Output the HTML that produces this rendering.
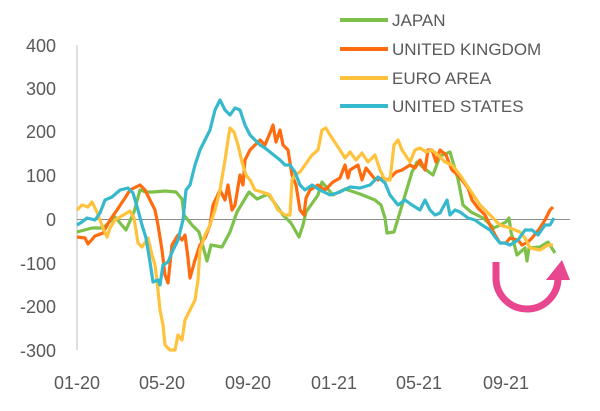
<!DOCTYPE html>
<html><head><meta charset="utf-8"><style>
html,body{margin:0;padding:0;background:#fff;}
svg{display:block;font-family:"Liberation Sans",sans-serif;}
</style></head><body>
<svg width="600" height="411" viewBox="0 0 600 411">
<g fill="#595959" font-size="18" text-anchor="end">
<text x="56" y="52">400</text><text x="56" y="95">300</text><text x="56" y="138">200</text>
<text x="56" y="182">100</text><text x="56" y="226">0</text><text x="56" y="270">-100</text>
<text x="56" y="313">-200</text><text x="56" y="357">-300</text>
</g>
<g fill="#595959" font-size="18" text-anchor="middle">
<text x="77" y="389">01-20</text><text x="162" y="389">05-20</text><text x="248" y="389">09-20</text>
<text x="334" y="389">01-21</text><text x="419" y="389">05-21</text><text x="506" y="389">09-21</text>
</g>
<line x1="77" y1="45" x2="77" y2="350" stroke="#bfbfbf" stroke-width="1"/>
<line x1="77" y1="219.5" x2="570" y2="219.5" stroke="#8c8c8c" stroke-width="1"/>
<g fill="none" stroke-width="3.2" stroke-linejoin="round">
<polyline stroke="#7dc14a" points="77,232 92,228 103,228 115,217 126,230 134,212 140,190 146,192 153,192 165,191 176,192 182,199 184,215 192,225 199,232 207,261 211,245 222,247 230,232 237,212 249,192 257,199 268,194 276,205 283,215 291,223 299,237 303,225 306,212 318,195 322,182 333,195 345,189 360,194 375,200 381,205 385,218 387,233 394,232 400,212 406,192 412,172 417,162 425,169 433,175 440,156 450,152 458,179 463,205 471,212 483,218 494,228 506,222 509,218 511,232 517,255 525,248 527,261 529,248 540,247 548,242 555,253"/>
<polyline stroke="#ff6b0f" points="77,237 85,238 88,244 95,236 103,233 110,220 117,210 125,198 130,190 140,185 145,190 150,200 155,210 158,225 162,250 165,275 168,283 172,245 175,240 178,235 182,240 185,235 188,258 190,278 195,260 200,245 205,238 210,225 213,205 220,190 225,200 228,185 232,210 235,205 240,175 243,185 245,160 250,150 255,145 260,140 265,145 270,133 273,125 276,142 280,130 283,145 288,150 292,175 296,185 300,210 304,215 306,198 310,190 318,185 325,190 333,182 340,178 345,165 348,178 350,170 358,165 362,180 366,168 374,178 378,180 382,178 388,180 396,172 402,170 410,165 415,168 420,160 425,170 428,150 432,150 436,162 440,150 446,155 452,170 458,175 462,180 468,188 472,200 478,208 485,215 490,225 495,235 500,243 506,243 510,238 518,240 522,245 528,242 532,238 540,228 545,220 550,210 553,207"/>
<polyline stroke="#ffc23d" points="77,210 82,205 88,207 92,202 97,212 100,220 103,228 107,237 110,228 115,220 125,214 130,211 134,218 138,243 142,247 148,238 152,255 155,265 158,290 160,310 163,325 165,345 170,350 175,350 178,335 182,340 185,320 190,310 195,300 198,280 200,250 205,235 210,225 215,210 220,190 225,160 228,140 230,128 234,132 238,145 242,162 246,175 250,180 255,190 262,192 270,195 278,210 285,215 290,215 292,180 295,175 300,172 305,165 312,155 318,150 322,130 326,128 330,135 340,150 345,158 350,152 356,160 362,153 368,162 375,155 380,170 385,180 390,180 394,145 398,140 402,150 410,162 415,150 420,148 426,152 432,150 438,155 445,162 452,165 460,175 470,190 480,205 490,215 500,225 510,228 520,232 525,238 530,248 540,250 548,245 553,245"/>
<polyline stroke="#36b9cc" points="77,225 82,222 87,218 95,220 100,213 105,200 112,197 120,190 128,188 133,193 138,210 142,225 146,238 150,262 153,282 158,280 160,285 163,265 168,262 173,250 178,240 183,220 186,190 190,185 195,165 200,150 210,130 215,110 220,100 225,110 230,115 235,108 240,110 245,125 250,135 255,140 260,145 265,148 270,152 280,160 285,165 290,165 295,172 300,185 305,190 312,185 320,190 330,195 340,192 350,187 360,188 370,185 378,177 385,183 390,195 398,205 405,200 412,205 420,210 425,200 430,210 435,215 440,213 447,200 450,215 455,210 460,212 468,218 475,220 482,225 490,230 495,237 500,243 505,243 510,245 518,240 525,230 532,230 538,235 545,225 550,225 554,218"/>
</g>
<path d="M496,262 L496,278 A31,31 0 0 0 558,278 L558,276" fill="none" stroke="#e8468f" stroke-width="7"/>
<polygon points="546,280 570,280 562,260" fill="#e8468f"/>
<g stroke-width="4">
<line x1="340" y1="20" x2="388" y2="20" stroke="#7dc14a"/>
<line x1="340" y1="49" x2="388" y2="49" stroke="#ff6b0f"/>
<line x1="340" y1="78" x2="388" y2="78" stroke="#ffc23d"/>
<line x1="340" y1="106" x2="388" y2="106" stroke="#36b9cc"/>
</g>
<g fill="#595959" font-size="17">
<text x="392" y="26">JAPAN</text><text x="392" y="55">UNITED KINGDOM</text>
<text x="392" y="84">EURO AREA</text><text x="392" y="112">UNITED STATES</text>
</g>
</svg>
</body></html>
